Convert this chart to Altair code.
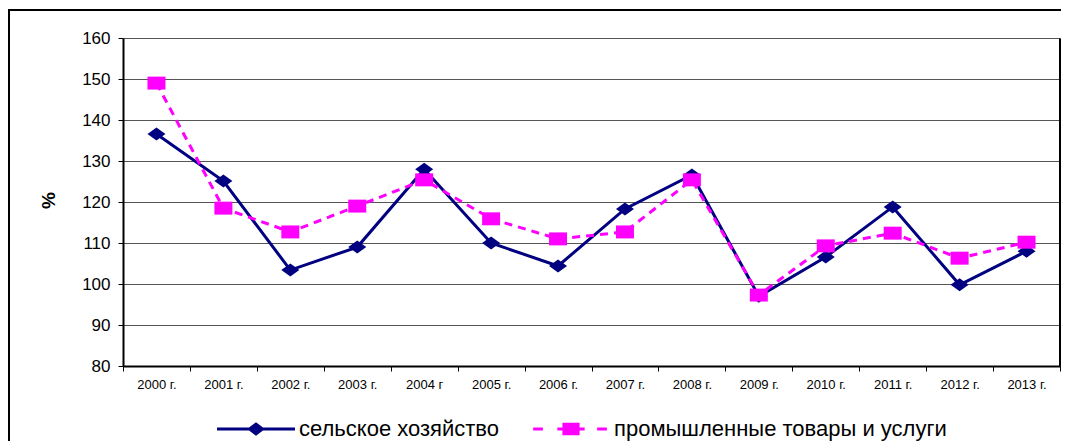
import altair as alt
import pandas as pd

years = ["2000 г.", "2001 г.", "2002 г.", "2003 г.", "2004 г", "2005 г.", "2006 г.",
         "2007 г.", "2008 г.", "2009 г.", "2010 г.", "2011 г.", "2012 г.", "2013 г."]
agri = [136.6, 125.1, 103.4, 109.0, 128.0, 110.0, 104.4, 118.3, 126.6, 97.0, 106.6, 118.8, 99.8, 108.0]
ind = [149.0, 118.5, 112.7, 119.0, 125.4, 115.9, 111.0, 112.7, 125.4, 97.3, 109.3, 112.4, 106.3, 110.2]
S1 = "сельское хозяйство"
S2 = "промышленные товары и услуги"
C1 = "#000080"
C2 = "#ff00ff"

rows = []
for y, a, b in zip(years, agri, ind):
    rows.append({"year": y, "value": a, "series": S1})
    rows.append({"year": y, "value": b, "series": S2})
df = pd.DataFrame(rows)

FONT = "Liberation Sans"
DIAMOND = "M-1,0L0,-0.72L1,0L0,0.72Z"
SQUARE = "M-1,-0.72H1V0.72H-1Z"
LEG1 = "M-1,-0.04H1V0.04H-1ZM-0.23,0L0,-0.17L0.23,0L0,0.17Z"
LEG2 = ("M-0.97,-0.04H-0.72V0.04H-0.97Z"
        "M-0.35,-0.04H0.35V0.04H-0.35Z"
        "M0.67,-0.04H0.92V0.04H0.67Z"
        "M-0.22,-0.16H0.22V0.16H-0.22Z")

yscale = alt.Scale(domain=[80, 160], nice=False, zero=False)

x_enc = alt.X("year:N", sort=years, title=None,
              scale=alt.Scale(type="band", paddingInner=0, paddingOuter=0),
              axis=alt.Axis(labelAngle=0, tickBand="extent", tickSize=5, labelPadding=7,
                            labelFont=FONT, labelFontSize=13, labelColor="black",
                            domainColor="black", domainWidth=2, tickColor="black",
                            grid=False))
y_left = alt.Y("value:Q", title="%", scale=yscale,
               axis=alt.Axis(values=list(range(80, 161, 10)), tickSize=5, labelPadding=8,
                             labelFont=FONT, labelFontSize=17, labelColor="black",
                             domainColor="black", domainWidth=2, tickColor="black",
                             grid=True, gridColor="#555555", gridWidth=1,
                             titleFont=FONT, titleFontSize=19, titleFontWeight="bold",
                             titleAngle=270, titleX=-75, titleY=162,
                             titleAlign="center", titleBaseline="middle"))
y_right = alt.Y("value:Q", title=None, scale=yscale,
                axis=alt.Axis(orient="right", labels=False, ticks=False, grid=False,
                              domainColor="black", domainWidth=3))
y_none = alt.Y("value:Q", scale=yscale, axis=None)

base = alt.Chart(df)

line1 = base.transform_filter(alt.datum.series == S1).mark_line(
    strokeWidth=3, color=C1).encode(x=x_enc, y=y_left)
line2 = base.transform_filter(alt.datum.series == S2).mark_line(
    strokeWidth=3, color=C2, strokeDash=[8, 6]).encode(x=x_enc, y=y_right)
pts1 = base.transform_filter(alt.datum.series == S1).mark_point(
    filled=True, opacity=1, size=324, strokeWidth=0, shape=DIAMOND, color=C1).encode(x=x_enc, y=y_none)
pts2 = base.transform_filter(alt.datum.series == S2).mark_point(
    filled=True, opacity=1, size=324, strokeWidth=0, shape=SQUARE, color=C2).encode(x=x_enc, y=y_none)

legend = alt.Legend(orient="none", legendX=94, legendY=352, direction="horizontal",
                    title=None, symbolSize=6084, symbolStrokeWidth=0, symbolOpacity=1,
                    labelFont=FONT, labelFontSize=22, labelColor="black",
                    labelOffset=4, columnPadding=32, padding=0, labelLimit=600)

leg = base.transform_filter("false").mark_point(
    filled=True, opacity=1, strokeWidth=0).encode(
    color=alt.Color("series:N", scale=alt.Scale(domain=[S1, S2], range=[C1, C2]),
                    legend=legend, sort=[S1, S2]),
    shape=alt.Shape("series:N", scale=alt.Scale(domain=[S1, S2], range=[LEG1, LEG2]),
                    legend=legend, sort=[S1, S2]),
)

one = alt.Chart(pd.DataFrame({"f": [0]}))
frame_left = one.mark_rule(stroke="black", strokeWidth=2, clip=False).encode(
    x=alt.value(-114), y=alt.value(-28), y2=alt.value(3000))
frame_top = one.mark_rule(stroke="black", strokeWidth=2, clip=False).encode(
    y=alt.value(-28), x=alt.value(-115), x2=alt.value(3000))

chart = alt.layer(frame_left, frame_top, line1, line2, pts1, pts2, leg).resolve_axis(
    y="independent").properties(
    width=937, height=328,
    autosize=alt.AutoSizeParams(type="none"),
    padding={"left": 115, "top": 30, "right": 1, "bottom": 75},
    background="white",
).configure_view(stroke=None)

chart.save("out.html", embed_options={"renderer": "svg", "actions": False})
